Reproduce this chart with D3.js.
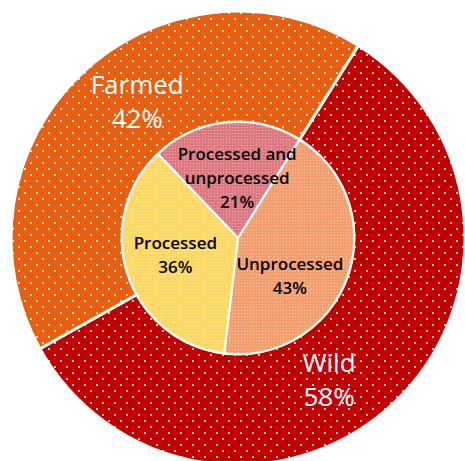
<!DOCTYPE html>
<html>
<head>
<meta charset="utf-8">
<script src="https://cdn.jsdelivr.net/npm/d3@7"></script>
<style>
  html, body { margin: 0; padding: 0; background: #fff; }
  svg { display: block; }
  text { font-family: "Open Sans", "Noto Sans", sans-serif; }
</style>
</head>
<body>
<svg id="chart" width="465" height="461"></svg>
<script>
// ---- data ----
const outerCategories = ["Wild", "Farmed"];
const outerValues = [58, 42];
const innerCategories = ["Unprocessed", "Processed", "Processed and unprocessed"];
const innerValues = [43, 36, 21];
const innerLabelLines = [["Unprocessed"], ["Processed"], ["Processed and", "unprocessed"]];

// ---- style ----
const cx = 238, cy = 238;
const R = 227, r = 116;
const startAngle = 32 * Math.PI / 180;
const outerColors = { "Wild": "#C00000", "Farmed": "#E75F10" };
const outerDot = { "Wild": "#F6C4C4", "Farmed": "#FAD4BC" };
const innerColors = { "Unprocessed": "#F59E6E", "Processed": "#FDD862", "Processed and unprocessed": "#DE7880" };
const outerLabelShift = { "Wild": 11, "Farmed": 7 };       // degrees
const outerLabelRadius = 169;
const innerLabelShift = { "Unprocessed": 16.5, "Processed": 3, "Processed and unprocessed": 5 };
const innerLabelRadius = { "Unprocessed": 64, "Processed": 65, "Processed and unprocessed": 60 };

const svg = d3.select("#chart");
const defs = svg.append("defs");

// dotted patterns for outer ring (staggered)
outerCategories.forEach((c, i) => {
  const p = defs.append("pattern").attr("id", "po" + i)
    .attr("patternUnits", "userSpaceOnUse").attr("width", 12).attr("height", 12);
  p.append("rect").attr("width", 12).attr("height", 12).attr("fill", outerColors[c]);
  [[2, 2], [8, 8]].forEach(d => {
    p.append("rect").attr("x", d[0]).attr("y", d[1]).attr("width", 2).attr("height", 2)
      .attr("fill", outerDot[c]);
  });
});
// fine texture overlay for inner pie
const tex = defs.append("pattern").attr("id", "tex")
  .attr("patternUnits", "userSpaceOnUse").attr("width", 3).attr("height", 3);
tex.append("rect").attr("width", 1).attr("height", 1).attr("fill", "#fff").attr("fill-opacity", 0.45);

const g = svg.append("g").attr("transform", `translate(${cx},${cy})`);

const pie = d3.pie().sort(null).startAngle(startAngle).endAngle(startAngle + 2 * Math.PI);

// outer ring
const outerArcs = pie(outerValues);
const arcOuter = d3.arc().innerRadius(0).outerRadius(R);
g.selectAll("path.outer").data(outerArcs).join("path")
  .attr("class", "outer")
  .attr("d", arcOuter)
  .attr("fill", (d, i) => `url(#po${i})`)
  .attr("stroke", "#fff").attr("stroke-width", 3).attr("stroke-linejoin", "round");

// inner pie
const innerArcs = pie(innerValues);
const arcInner = d3.arc().innerRadius(0).outerRadius(r);
g.append("circle").attr("r", r + 1.5).attr("fill", "#fff");
g.selectAll("path.inner").data(innerArcs).join("path")
  .attr("class", "inner")
  .attr("d", arcInner)
  .attr("fill", (d, i) => innerColors[innerCategories[i]]);
g.selectAll("path.innertex").data(innerArcs).join("path")
  .attr("class", "innertex")
  .attr("d", arcInner)
  .attr("fill", "url(#tex)")
  .attr("stroke", "#fff").attr("stroke-width", 2).attr("stroke-linejoin", "round");

function polar(angleDeg, rad) {
  const a = angleDeg * Math.PI / 180;
  return [Math.sin(a) * rad, -Math.cos(a) * rad];
}

// outer labels
outerArcs.forEach((d, i) => {
  const c = outerCategories[i];
  const mid = (d.startAngle + d.endAngle) / 2 * 180 / Math.PI + outerLabelShift[c];
  const [x, y] = polar(mid, outerLabelRadius);
  const t = g.append("text").attr("text-anchor", "middle").attr("fill", "#fff")
    .attr("font-size", 26).attr("font-weight", 500);
  t.append("tspan").attr("x", x).attr("y", y - 8).text(c);
  t.append("tspan").attr("x", x).attr("y", y + 26).text(outerValues[i] + "%");
});

// inner labels
innerArcs.forEach((d, i) => {
  const c = innerCategories[i];
  const mid = (d.startAngle + d.endAngle) / 2 * 180 / Math.PI + innerLabelShift[c];
  const [x, y] = polar(mid, innerLabelRadius[c]);
  const lines = innerLabelLines[i].concat([innerValues[i] + "%"]);
  const lh = 24;
  const t = g.append("text").attr("text-anchor", "middle").attr("fill", "#000")
    .attr("font-size", 17).attr("font-weight", 600);
  lines.forEach((s, k) => {
    t.append("tspan").attr("x", x)
      .attr("y", y + (k - (lines.length - 1) / 2) * lh + 6).text(s);
  });
});
</script>
</body>
</html>
